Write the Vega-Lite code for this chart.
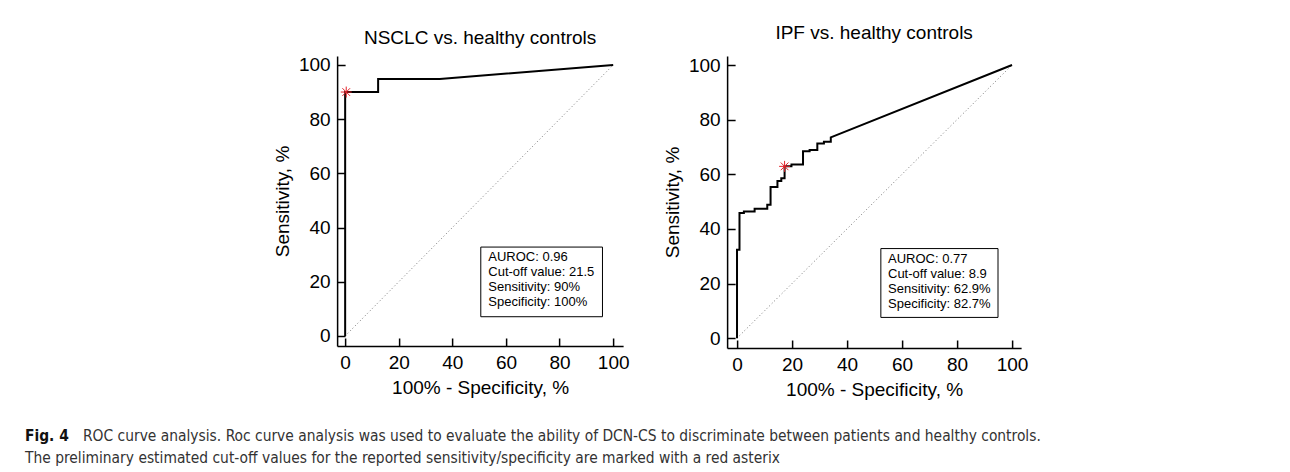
{
  "$schema": "https://vega.github.io/schema/vega-lite/v6.json",
  "padding": {"top": 24, "left": 25, "right": 0, "bottom": 0},
  "background": "white",
  "center": true,
  "spacing": 26,
  "datasets": {
    "nsclc": [
      {"k": 0, "fpr": 0, "sens": 0},
      {"k": 1, "fpr": 0, "sens": 90},
      {"k": 2, "fpr": 12.3, "sens": 90},
      {"k": 3, "fpr": 12.3, "sens": 94.8},
      {"k": 4, "fpr": 35.3, "sens": 94.8},
      {"k": 5, "fpr": 100, "sens": 100}
    ],
    "nsclc_cut": [{"fpr": 0.4, "sens": 90}],
    "nsclc_box": [{"x1": 50.6, "x2": 96, "y1": 32.8, "y2": 7.1, "tx": 53.4, "ty": 31.2, "label": ["AUROC: 0.96", "Cut-off value: 21.5", "Sensitivity: 90%", "Specificity: 100%"]}],
    "ipf": [
      {"k": 0, "fpr": 0, "sens": 0},
      {"k": 1, "fpr": 0, "sens": 32.4},
      {"k": 2, "fpr": 0.9, "sens": 32.4},
      {"k": 3, "fpr": 0.9, "sens": 45.8},
      {"k": 4, "fpr": 2.5, "sens": 45.8},
      {"k": 5, "fpr": 2.5, "sens": 46.4},
      {"k": 6, "fpr": 6.4, "sens": 46.4},
      {"k": 7, "fpr": 6.4, "sens": 47.4},
      {"k": 8, "fpr": 11, "sens": 47.4},
      {"k": 9, "fpr": 11, "sens": 48.8},
      {"k": 10, "fpr": 12.2, "sens": 48.8},
      {"k": 11, "fpr": 12.2, "sens": 55.3},
      {"k": 12, "fpr": 14.7, "sens": 55.3},
      {"k": 13, "fpr": 14.7, "sens": 57.5},
      {"k": 14, "fpr": 16.1, "sens": 57.5},
      {"k": 15, "fpr": 16.1, "sens": 58.5},
      {"k": 16, "fpr": 17.3, "sens": 58.5},
      {"k": 17, "fpr": 17.3, "sens": 62.9},
      {"k": 18, "fpr": 19.8, "sens": 62.9},
      {"k": 19, "fpr": 19.8, "sens": 63.6},
      {"k": 20, "fpr": 24, "sens": 63.6},
      {"k": 21, "fpr": 24, "sens": 68.4},
      {"k": 22, "fpr": 26.4, "sens": 68.4},
      {"k": 23, "fpr": 26.4, "sens": 68.9},
      {"k": 24, "fpr": 29.2, "sens": 68.9},
      {"k": 25, "fpr": 29.2, "sens": 71.3},
      {"k": 26, "fpr": 31.6, "sens": 71.3},
      {"k": 27, "fpr": 31.6, "sens": 71.9},
      {"k": 28, "fpr": 34.1, "sens": 71.9},
      {"k": 29, "fpr": 34.1, "sens": 73.5},
      {"k": 30, "fpr": 100, "sens": 100}
    ],
    "ipf_cut": [{"fpr": 17.3, "sens": 62.9}],
    "ipf_box": [{"x1": 52.3, "x2": 94.9, "y1": 32.8, "y2": 7.6, "tx": 54.9, "ty": 31.3, "label": ["AUROC: 0.77", "Cut-off value: 8.9", "Sensitivity: 62.9%", "Specificity: 82.7%"]}],
    "diag": [{"fpr": 0, "sens": 0}, {"fpr": 100, "sens": 100}],
    "caption": [
      {"part": "fig", "line": 1, "col": 0, "text": "Fig. 4"},
      {"part": "l1", "line": 1, "col": 0, "text": "ROC curve analysis. Roc curve analysis was used to evaluate the ability of DCN-CS to discriminate between patients and healthy controls."},
      {"part": "l2", "line": 2, "col": 0, "text": "The preliminary estimated cut-off values for the reported sensitivity/specificity are marked with a red asterix"}
    ]
  },
  "vconcat": [
    {
      "bounds": "flush",
      "spacing": 104,
      "hconcat": [
        {
          "width": 286,
          "height": 290,
          "title": {"text": "NSCLC vs. healthy controls", "offset": 8},
          "layer": [
            {
              "data": {"name": "diag"},
              "mark": {"type": "line", "color": "#777777", "strokeWidth": 1, "strokeDash": [1, 2.5]},
              "encoding": {
                "x": {"field": "fpr", "type": "quantitative", "scale": {"domain": [-3, 103.7], "nice": false, "zero": false}, "axis": {"title": "100% - Specificity, %", "values": [0, 20, 40, 60, 80, 100]}},
                "y": {"field": "sens", "type": "quantitative", "scale": {"domain": [-3.7, 103.3], "nice": false, "zero": false}, "axis": {"title": "Sensitivity, %", "values": [0, 20, 40, 60, 80, 100]}}
              }
            },
            {
              "data": {"name": "nsclc"},
              "mark": {"type": "line", "color": "black", "strokeWidth": 2},
              "encoding": {
                "x": {"field": "fpr", "type": "quantitative"},
                "y": {"field": "sens", "type": "quantitative"},
                "order": {"field": "k", "type": "quantitative"}
              }
            },
            {
              "data": {"name": "nsclc_cut"},
              "mark": {"type": "point", "shape": "M-1,0L1,0M0,-1L0,1M-0.7,-0.7L0.7,0.7M-0.7,0.7L0.7,-0.7", "size": 120, "filled": false, "color": "#e3242b", "strokeWidth": 1, "opacity": 1},
              "encoding": {
                "x": {"field": "fpr", "type": "quantitative"},
                "y": {"field": "sens", "type": "quantitative"}
              }
            },
            {
              "data": {"name": "nsclc_box"},
              "mark": {"type": "rect", "fill": "white", "stroke": "black", "strokeWidth": 1},
              "encoding": {
                "x": {"field": "x1", "type": "quantitative"},
                "x2": {"field": "x2"},
                "y": {"field": "y1", "type": "quantitative"},
                "y2": {"field": "y2"}
              }
            },
            {
              "data": {"name": "nsclc_box"},
              "mark": {"type": "text", "align": "left", "baseline": "top", "fontSize": 13, "lineHeight": 15, "color": "black"},
              "encoding": {
                "x": {"field": "tx", "type": "quantitative"},
                "y": {"field": "ty", "type": "quantitative"},
                "text": {"field": "label"}
              }
            }
          ]
        },
        {
          "width": 294,
          "height": 292,
          "title": {"text": "IPF vs. healthy controls", "offset": 13},
          "layer": [
            {
              "data": {"name": "diag"},
              "mark": {"type": "line", "color": "#777777", "strokeWidth": 1, "strokeDash": [1, 2.5]},
              "encoding": {
                "x": {"field": "fpr", "type": "quantitative", "scale": {"domain": [-3.6, 103.3], "nice": false, "zero": false}, "axis": {"title": "100% - Specificity, %", "values": [0, 20, 40, 60, 80, 100]}},
                "y": {"field": "sens", "type": "quantitative", "scale": {"domain": [-3.6, 103.3], "nice": false, "zero": false}, "axis": {"title": "Sensitivity, %", "values": [0, 20, 40, 60, 80, 100]}}
              }
            },
            {
              "data": {"name": "ipf"},
              "mark": {"type": "line", "color": "black", "strokeWidth": 2},
              "encoding": {
                "x": {"field": "fpr", "type": "quantitative"},
                "y": {"field": "sens", "type": "quantitative"},
                "order": {"field": "k", "type": "quantitative"}
              }
            },
            {
              "data": {"name": "ipf_cut"},
              "mark": {"type": "point", "shape": "M-1,0L1,0M0,-1L0,1M-0.7,-0.7L0.7,0.7M-0.7,0.7L0.7,-0.7", "size": 120, "filled": false, "color": "#e3242b", "strokeWidth": 1, "opacity": 1},
              "encoding": {
                "x": {"field": "fpr", "type": "quantitative"},
                "y": {"field": "sens", "type": "quantitative"}
              }
            },
            {
              "data": {"name": "ipf_box"},
              "mark": {"type": "rect", "fill": "white", "stroke": "black", "strokeWidth": 1},
              "encoding": {
                "x": {"field": "x1", "type": "quantitative"},
                "x2": {"field": "x2"},
                "y": {"field": "y1", "type": "quantitative"},
                "y2": {"field": "y2"}
              }
            },
            {
              "data": {"name": "ipf_box"},
              "mark": {"type": "text", "align": "left", "baseline": "top", "fontSize": 13, "lineHeight": 15, "color": "black"},
              "encoding": {
                "x": {"field": "tx", "type": "quantitative"},
                "y": {"field": "ty", "type": "quantitative"},
                "text": {"field": "label"}
              }
            }
          ]
        }
      ]
    },
    {
      "width": 1315,
      "height": 44,
      "data": {"name": "caption"},
      "encoding": {
        "x": {"field": "col", "type": "quantitative", "scale": {"domain": [0, 1]}, "axis": null},
        "y": {"field": "line", "type": "ordinal", "axis": null},
        "text": {"field": "text"}
      },
      "layer": [
        {
          "transform": [{"filter": "datum.part == 'fig'"}],
          "mark": {"type": "text", "align": "left", "baseline": "middle", "font": "DejaVu Sans Condensed, Liberation Sans Narrow, Roboto, sans-serif", "fontSize": 15.4, "fontWeight": "bold", "color": "#111111"}
        },
        {
          "transform": [{"filter": "datum.part == 'l1'"}],
          "mark": {"type": "text", "align": "left", "baseline": "middle", "font": "DejaVu Sans Condensed, Liberation Sans Narrow, Roboto, sans-serif", "fontSize": 15.4, "color": "#333333", "dx": 58}
        },
        {
          "transform": [{"filter": "datum.part == 'l2'"}],
          "mark": {"type": "text", "align": "left", "baseline": "middle", "font": "DejaVu Sans Condensed, Liberation Sans Narrow, Roboto, sans-serif", "fontSize": 15.4, "color": "#333333"}
        }
      ]
    }
  ],
  "config": {
    "font": "Liberation Sans",
    "view": {"stroke": null},
    "axis": {
      "grid": false,
      "domainColor": "black",
      "domainWidth": 1.5,
      "tickColor": "black",
      "tickWidth": 1.5,
      "tickSize": -8,
      "labelFont": "Liberation Sans",
      "labelFontSize": 19,
      "labelColor": "black",
      "labelPadding": 15,
      "labelFlush": false,
      "labelOverlap": false,
      "titleFont": "Liberation Sans",
      "titleFontSize": 19,
      "titleFontWeight": "normal",
      "titleColor": "black"
    },
    "axisX": {"titlePadding": 6},
    "axisY": {"titlePadding": 6},
    "title": {"font": "Liberation Sans", "fontSize": 19, "fontWeight": "normal", "color": "black", "frame": "group"}
  }
}
